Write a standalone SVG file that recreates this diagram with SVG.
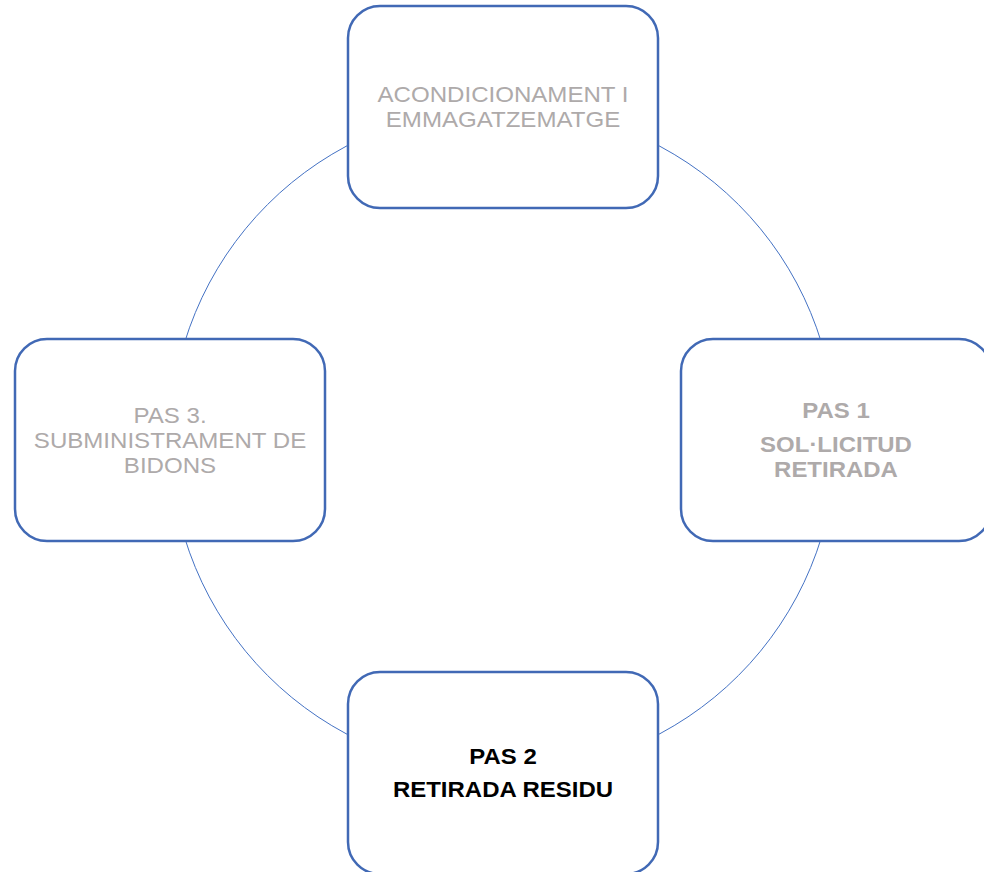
<svg xmlns="http://www.w3.org/2000/svg" width="984" height="872" viewBox="0 0 984 872">
<style>
.box{fill:#ffffff;stroke:#4169B5;stroke-width:2.5}
.t{font-family:"Liberation Sans",Arial,sans-serif;font-size:22px;text-anchor:middle}
.g{fill:#AEAAAA}
.b{font-weight:bold}
.k{fill:#000000}
</style>
<rect width="984" height="872" fill="#ffffff"/>
<g id="connectors">
<circle cx="503" cy="440" r="333" fill="none" stroke="#4472C4" stroke-width="1"/>
</g>
<g id="node-top">
<rect class="box" x="348" y="6" width="310" height="202" rx="32" ry="32"/>
<g transform="translate(503 0) scale(1.095 1)">
<text class="t g" x="0" y="102">ACONDICIONAMENT I</text>
<text class="t g" x="0" y="127">EMMAGATZEMATGE</text>
</g>
</g>
<g id="node-right">
<rect class="box" x="681" y="339" width="310" height="202" rx="32" ry="32"/>
<g transform="translate(836 0) scale(1.09 1)">
<text class="t g b" x="0" y="418">PAS 1</text>
<text class="t g b" x="0" y="452">SOL·LICITUD</text>
<text class="t g b" x="0" y="477">RETIRADA</text>
</g>
</g>
<g id="node-bottom">
<rect class="box" x="348" y="672" width="310" height="202" rx="32" ry="32"/>
<g transform="translate(503 0) scale(1.09 1)">
<text class="t k b" x="0" y="764">PAS 2</text>
<text class="t k b" x="0" y="797">RETIRADA RESIDU</text>
</g>
</g>
<g id="node-left">
<rect class="box" x="15" y="339" width="310" height="202" rx="32" ry="32"/>
<g transform="translate(170 0) scale(1.095 1)">
<text class="t g" x="0" y="423">PAS 3.</text>
<text class="t g" x="0" y="448">SUBMINISTRAMENT DE</text>
<text class="t g" x="0" y="473">BIDONS</text>
</g>
</g>
</svg>
